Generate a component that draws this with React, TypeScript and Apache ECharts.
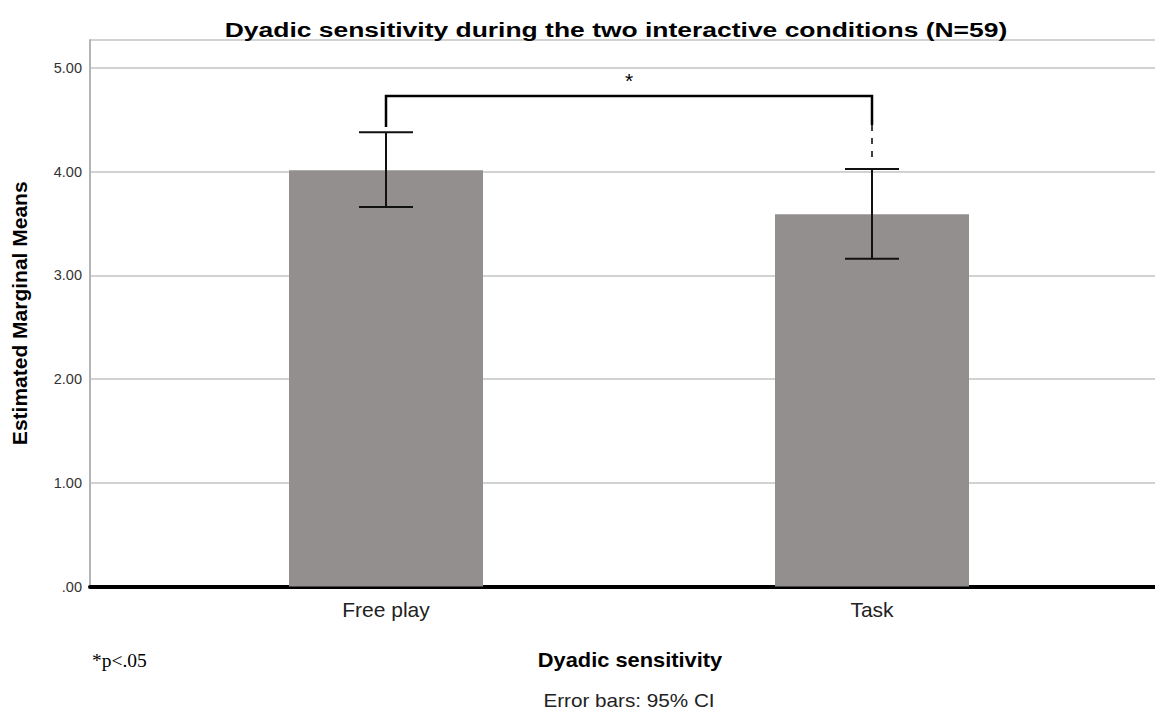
import React, { useEffect, useRef } from "react";
import * as echarts from "echarts";

const categories = ["Free play", "Task"];
const means = [4.015, 3.59];
const ciLower = [3.66, 3.16];
const ciUpper = [4.38, 4.025];
const yTicks = [0, 1, 2, 3, 4, 5];
// bracket: [fromCat, toCat, topY, leftLegBottom, rightSolidBottom, rightDashBottom]
const bracket = [[0, 1, 4.73, 4.43, 4.45, 4.14]];

export default function App() {
  const ref = useRef<HTMLDivElement>(null);
  useEffect(() => {
    document.body.style.margin = "0";
    const chart = echarts.init(ref.current!, null, { renderer: "svg" });
    const font = "'Liberation Sans', Arial, sans-serif";
    const yMax = 5.27;
    const option: any = {
      animation: false,
      backgroundColor: "#ffffff",
      grid: [
        { left: 90, right: 0, top: 40, bottom: 126.5 },
        { left: 143, right: 40, top: 40, bottom: 126.5 },
      ],
      xAxis: [
        {
          gridIndex: 0,
          type: "value",
          min: 0,
          max: 1,
          axisLine: { show: true, lineStyle: { color: "#000", width: 4 } },
          axisTick: { show: false },
          axisLabel: { show: false },
          splitLine: { show: false },
        },
        {
          gridIndex: 1,
          type: "category",
          data: categories,
          axisLine: { show: false },
          axisTick: { show: false },
          axisLabel: { fontFamily: font, fontSize: 21, color: "#222", margin: 12 },
          splitLine: { show: false },
        },
      ],
      yAxis: [
        {
          gridIndex: 0,
          type: "value",
          min: 0,
          max: yMax,
          interval: 1,
          name: "Estimated Marginal Means",
          nameLocation: "middle",
          nameGap: 60,
          nameTextStyle: { fontFamily: font, fontSize: 21, fontWeight: "bold", color: "#000" },
          axisLine: { show: true, lineStyle: { color: "#b4b4b4", width: 2 } },
          axisTick: { show: false },
          axisLabel: {
            fontFamily: font,
            fontSize: 14.5,
            color: "#333",
            margin: 8,
            showMaxLabel: false,
            formatter: (v: number) => (yTicks.includes(v) ? (v === 0 ? ".00" : v.toFixed(2)) : ""),
          },
          splitLine: { show: true, lineStyle: { color: "#d2d2d2", width: 2 } },
        },
        {
          gridIndex: 1,
          type: "value",
          min: 0,
          max: yMax,
          show: false,
        },
      ],
      graphic: [
        {
          type: "text",
          x: 616,
          y: 19,
          scaleX: 1.26,
          z: 100,
          style: {
            text: "Dyadic sensitivity during the two interactive conditions (N=59)",
            fontFamily: font,
            fontSize: 21,
            fontWeight: "bold",
            fill: "#000",
            textAlign: "center",
            textVerticalAlign: "top",
          },
        },
        {
          type: "text",
          x: 92,
          y: 660,
          style: {
            text: "*p<.05",
            fontFamily: "'Liberation Serif', 'Times New Roman', serif",
            fontSize: 19.5,
            fill: "#000",
            textVerticalAlign: "middle",
          },
        },
        {
          type: "text",
          x: 630,
          y: 660,
          scaleX: 1.12,
          style: {
            text: "Dyadic sensitivity",
            fontFamily: font,
            fontSize: 19.5,
            fontWeight: "bold",
            fill: "#000",
            textAlign: "center",
            textVerticalAlign: "middle",
          },
        },
        {
          type: "text",
          x: 629,
          y: 701,
          scaleX: 1.15,
          style: {
            text: "Error bars: 95% CI",
            fontFamily: "'Liberation Sans Narrow', 'Liberation Sans', Arial, sans-serif",
            fontSize: 18,
            fill: "#222",
            textAlign: "center",
            textVerticalAlign: "middle",
          },
        },
      ],
      series: [
        {
          type: "bar",
          xAxisIndex: 1,
          yAxisIndex: 1,
          data: means,
          barWidth: 194,
          itemStyle: { color: "#938f8e" },
          z: 2,
        },
        {
          type: "custom",
          xAxisIndex: 1,
          yAxisIndex: 1,
          data: categories.map((_, i) => [i, ciLower[i], ciUpper[i]]),
          z: 5,
          renderItem: (params: any, api: any) => {
            const x = api.value(0);
            const lo = api.coord([x, api.value(1)]);
            const hi = api.coord([x, api.value(2)]);
            const half = 27;
            const style = { stroke: "#111", lineWidth: 2 };
            return {
              type: "group",
              children: [
                { type: "line", shape: { x1: lo[0], y1: lo[1], x2: hi[0], y2: hi[1] }, style },
                { type: "line", shape: { x1: lo[0] - half, y1: lo[1], x2: lo[0] + half, y2: lo[1] }, style },
                { type: "line", shape: { x1: hi[0] - half, y1: hi[1], x2: hi[0] + half, y2: hi[1] }, style },
              ],
            };
          },
        },
        {
          type: "custom",
          xAxisIndex: 1,
          yAxisIndex: 1,
          data: bracket,
          z: 6,
          renderItem: (params: any, api: any) => {
            const a = api.value(0);
            const b = api.value(1);
            const top = api.value(2);
            const pTopL = api.coord([a, top]);
            const pTopR = api.coord([b, top]);
            const pLegL = api.coord([a, api.value(3)]);
            const pLegR = api.coord([b, api.value(4)]);
            const pDash = api.coord([b, api.value(5)]);
            const style = { stroke: "#000", lineWidth: 2.5, fill: "none" };
            return {
              type: "group",
              children: [
                {
                  type: "polyline",
                  shape: { points: [pLegL, pTopL, pTopR, pLegR] },
                  style,
                },
                {
                  type: "line",
                  shape: { x1: pLegR[0], y1: pLegR[1], x2: pDash[0], y2: pDash[1] },
                  style: { stroke: "#000", lineWidth: 1.5, lineDash: [6, 7] },
                },
                {
                  type: "text",
                  x: (pTopL[0] + pTopR[0]) / 2,
                  y: pTopL[1] - 5,
                  style: { text: "*", fontFamily: font, fontSize: 21, fill: "#000", textAlign: "center", textVerticalAlign: "bottom" },
                },
              ],
            };
          },
        },
      ],
    };
    chart.setOption(option);
    return () => chart.dispose();
  }, []);
  return <div ref={ref} style={{ width: 1155, height: 713 }} />;
}
